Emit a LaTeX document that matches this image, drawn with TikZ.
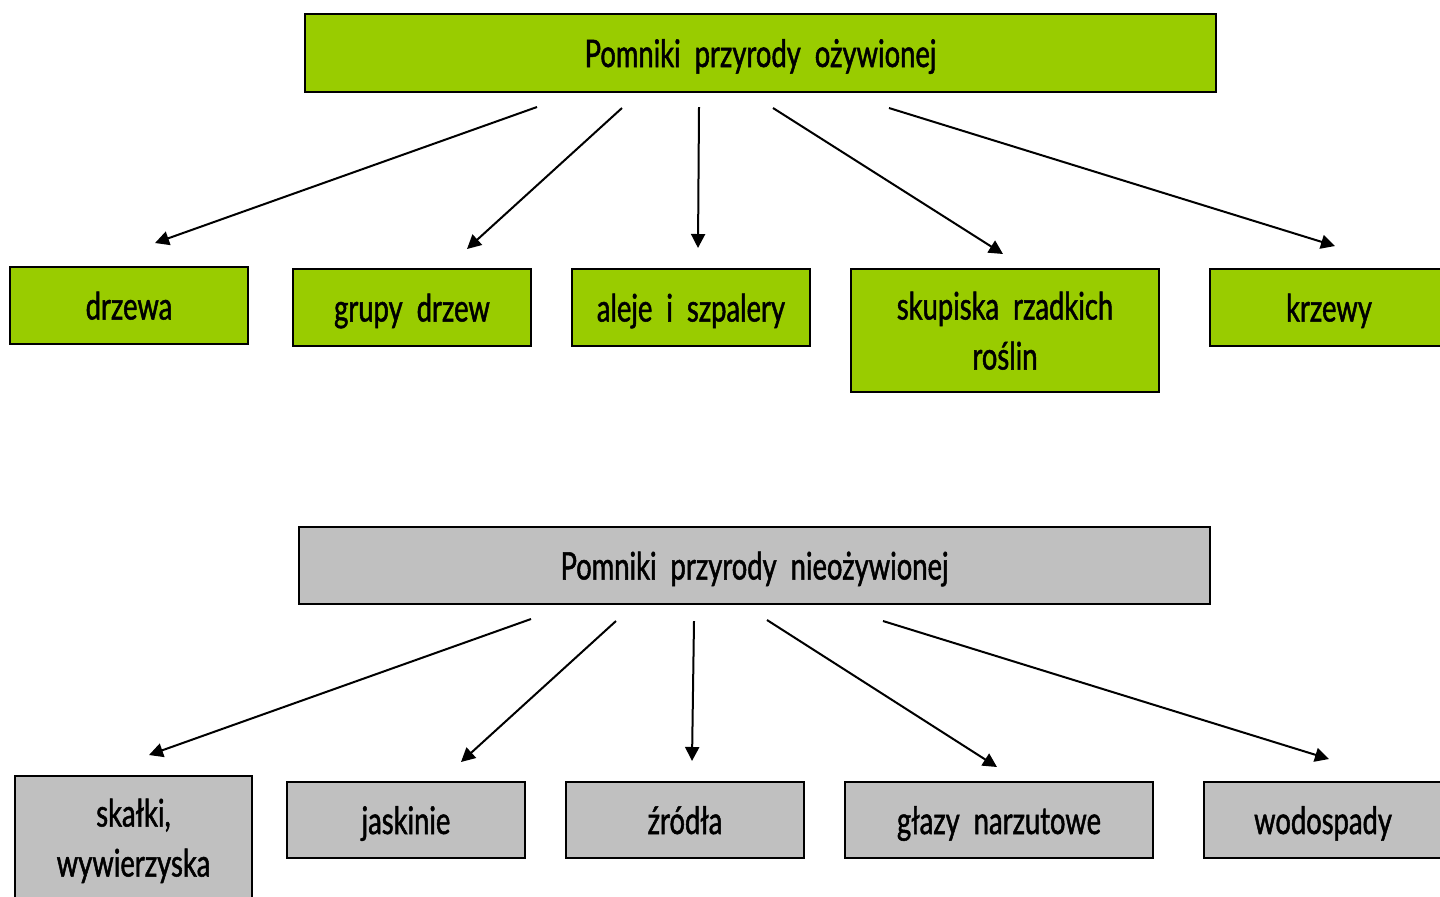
\documentclass[tikz,border=0pt]{standalone}
\usepackage{fontspec}
\setmainfont{Lato}[FakeStretch=0.72, FakeBold=1.3]
\usetikzlibrary{arrows.meta}
\definecolor{livegreen}{HTML}{99CC00}
\definecolor{stonegray}{HTML}{C0C0C0}
\tikzset{
  box/.style={draw=black, line width=1pt, inner sep=0pt, align=center,
    font=\fontsize{19pt}{25pt}\selectfont, text depth=0pt},
  gbox/.style={box, fill=livegreen},
  sbox/.style={box, fill=stonegray},
  conn/.style={line width=1pt, -{Triangle[length=7pt,width=7pt]}},
}
\begin{document}
\begin{tikzpicture}[x=0.5pt,y=-0.5pt]
\path[use as bounding box, clip] (0,0) rectangle (1440,896);
\fill[white] (0,0) rectangle (1440,896);
% top group
\node[gbox, minimum width=455.5pt, minimum height=39pt] (live) at (760.5,53) {Pomniki\ \ przyrody\ \ ożywionej};
\node[gbox, minimum width=119pt, minimum height=38.5pt] (drzewa) at (129,305.5) {drzewa};
\node[gbox, minimum width=119pt, minimum height=38.5pt] (grupy) at (412,307.5) {grupy\ \ drzew};
\node[gbox, minimum width=119pt, minimum height=38.5pt] (aleje) at (691,307.5) {aleje\ \ i\ \ szpalery};
\node[gbox, minimum width=154pt, minimum height=61.5pt] (skupiska) at (1005,330.5) {skupiska\ \ rzadkich\\roślin};
\node[gbox, minimum width=119pt, minimum height=38.5pt] (krzewy) at (1329,307.5) {krzewy};
% bottom group
\node[sbox, minimum width=455.5pt, minimum height=38.5pt] (dead) at (754.5,565.5) {Pomniki\ \ przyrody\ \ nieożywionej};
\node[sbox, minimum width=118.5pt, minimum height=61.5pt] (skalki) at (133.5,837.5) {skałki,\\wywierzyska};
\node[sbox, minimum width=119pt, minimum height=38pt] (jaskinie) at (406,820) {jaskinie};
\node[sbox, minimum width=119pt, minimum height=38pt] (zrodla) at (685,820) {źródła};
\node[sbox, minimum width=154pt, minimum height=38pt] (glazy) at (999,820) {głazy\ \ narzutowe};
\node[sbox, minimum width=119pt, minimum height=38pt] (wodospady) at (1323,820) {wodospady};
% connector end points
\coordinate (a1) at (537,107); \coordinate (b1) at (155,243);
\coordinate (a2) at (622,108); \coordinate (b2) at (467,249);
\coordinate (a3) at (699,107); \coordinate (b3) at (698,248);
\coordinate (a4) at (773,108); \coordinate (b4) at (1003,254);
\coordinate (a5) at (889,108); \coordinate (b5) at (1335,246);
\coordinate (c1) at (531,619); \coordinate (d1) at (149,755);
\coordinate (c2) at (616,621); \coordinate (d2) at (461,762);
\coordinate (c3) at (694,621); \coordinate (d3) at (692,761);
\coordinate (c4) at (767,620); \coordinate (d4) at (997,767);
\coordinate (c5) at (883,621); \coordinate (d5) at (1329,759);
\foreach \i in {1,...,5} {
  \draw[conn] (a\i) -- (b\i);
  \draw[conn] (c\i) -- (d\i);
}
\end{tikzpicture}
\end{document}
